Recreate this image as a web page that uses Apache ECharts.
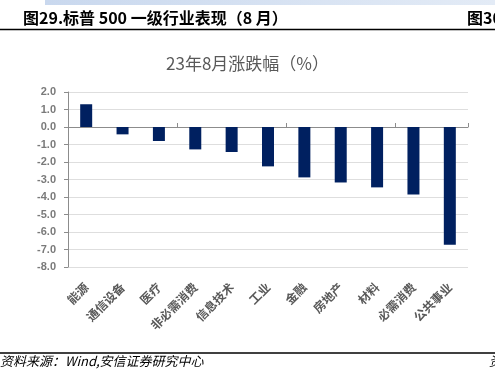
<!DOCTYPE html>
<html>
<head>
<meta charset="utf-8">
<script src="https://cdn.jsdelivr.net/npm/echarts@6/dist/echarts.min.js"></script>
<style>
  html, body { margin: 0; padding: 0; background: #fff; }
  #main { width: 495px; height: 381px; }
</style>
</head>
<body>
<div id="main"></div>
<script>
const industries = ['能源', '通信设备', '医疗', '非必需消费', '信息技术', '工业', '金融', '房地产', '材料', '必需消费', '公共事业'];
const changes = [1.3, -0.42, -0.8, -1.28, -1.43, -2.25, -2.88, -3.17, -3.45, -3.85, -6.73];

const chart = echarts.init(document.getElementById('main'));

const cjk = '"Noto Sans CJK SC", "Noto Sans", sans-serif';

const option = {
  animation: false,
  title: {
    text: '23年8月涨跌幅（%）',
    left: 'center',
    top: 50,
    textStyle: { fontFamily: cjk, fontSize: 17, fontWeight: 'normal', color: '#595959' },
  },
  grid: { left: 68, right: 27, top: 92, bottom: 114 },
  xAxis: [
    {
      type: 'category',
      data: industries,
      position: 'bottom',
      axisLine: { show: false, onZero: false },
      axisTick: { show: false },
      axisLabel: {
        rotate: 45,
        interval: 0,
        margin: 18,
        fontFamily: cjk,
        fontSize: 12,
        fontWeight: 'bold',
        color: '#595959',
      },
    },
    {
      type: 'category',
      data: industries,
      position: 'bottom',
      axisLine: { show: true, onZero: true, lineStyle: { color: '#8c8c8c', width: 1 } },
      axisTick: { show: true, inside: true, length: 4, lineStyle: { color: '#8c8c8c' } },
      axisLabel: { show: false },
    },
  ],
  yAxis: {
    type: 'value',
    min: -8,
    max: 2,
    interval: 1,
    axisLine: { show: true, lineStyle: { color: '#8c8c8c' } },
    axisTick: { show: true, length: 4, lineStyle: { color: '#8c8c8c' } },
    axisLabel: {
      formatter: (v) => v.toFixed(1),
      fontFamily: '"Liberation Sans", Arial, sans-serif',
      fontSize: 11,
      fontWeight: 'bold',
      color: '#7a7a7a',
      margin: 12,
    },
    splitLine: { lineStyle: { color: '#dedede', width: 1 } },
  },
  series: [
    {
      type: 'bar',
      xAxisIndex: 0,
      data: changes,
      barWidth: '33%',
      itemStyle: { color: '#002060' },
    },
  ],
  graphic: [
    {
      type: 'rect',
      shape: { x: 45, y: 0, width: 450, height: 5 },
      style: {
        fill: new echarts.graphic.LinearGradient(0, 0, 1, 0, [
          { offset: 0, color: '#c9d8ee' },
          { offset: 1, color: '#e3ebf6' },
        ]),
      },
    },
    {
      type: 'text',
      left: 23,
      top: 10,
      style: {
        text: '图29.标普 500 一级行业表现（8 月）',
        font: 'bold 16px "Noto Sans CJK SC", sans-serif',
        fill: '#000',
      },
    },
    {
      type: 'text',
      left: 467,
      top: 10,
      style: {
        text: '图30',
        font: 'bold 16px "Noto Sans CJK SC", sans-serif',
        fill: '#000',
      },
    },
    {
      type: 'line',
      shape: { x1: 0, y1: 29.5, x2: 495, y2: 29.5 },
      style: { stroke: '#000', lineWidth: 1.5 },
    },
    {
      type: 'line',
      shape: { x1: 0, y1: 353, x2: 495, y2: 353 },
      style: { stroke: '#000', lineWidth: 1.5 },
    },
    {
      type: 'text',
      left: 0,
      top: 355,
      style: {
        text: '资料来源：Wind,安信证券研究中心',
        font: 'italic 13px "Noto Sans CJK SC", sans-serif',
        fill: '#000',
      },
    },
    {
      type: 'text',
      left: 489,
      top: 355,
      style: {
        text: '资',
        font: 'italic 13px "Noto Sans CJK SC", sans-serif',
        fill: '#000',
      },
    },
  ],
};

chart.setOption(option);
</script>
</body>
</html>
